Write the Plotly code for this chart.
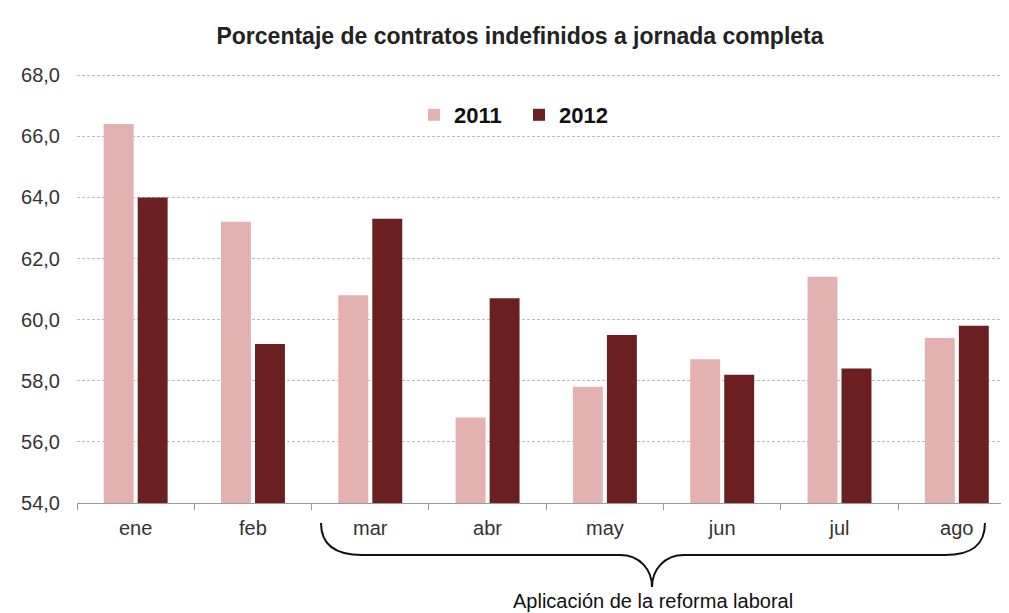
"""Porcentaje de contratos indefinidos a jornada completa — grouped bars 2011 vs 2012."""

import plotly.graph_objects as go

MONTHS = ["ene", "feb", "mar", "abr", "may", "jun", "jul", "ago"]
Y2011 = [66.4, 63.2, 60.8, 56.8, 57.8, 58.7, 61.4, 59.4]
Y2012 = [64.0, 59.2, 63.3, 60.7, 59.5, 58.2, 58.4, 59.8]
Y_TICKS = [54, 56, 58, 60, 62, 64, 66, 68]

PINK = "#e3b1b0"
MAROON = "#6b1f20"
TEXT = "#333333"
GRID = "#bdbdbd"
FONT = "Arial, 'Liberation Sans', sans-serif"

# page body has an 8px margin, so the figure is drawn 8px in from the window corner
OFF = 8
W, H = 1001, 605
L, R, T, B = 69, 0, 65, 110  # margins in figure px


def px(x, y):
    """window pixel -> paper coords"""
    x, y = x - OFF, y - OFF
    return (x - L) / (W - L - R), (H - B - y) / (H - T - B)


def brace_path():
    pts = [
        ("M", [(321, 523)]),
        ("C", [(321, 545), (335, 555), (362, 555)]),
        ("L", [(620, 555)]),
        ("C", [(640, 555), (652, 570), (652, 587)]),
        ("C", [(652, 570), (664, 555), (684, 555)]),
        ("L", [(945, 555)]),
        ("C", [(972, 555), (985, 545), (985, 523)]),
    ]
    out = []
    for cmd, p in pts:
        coords = " ".join(f"{px(a, b)[0]:.4f},{px(a, b)[1]:.4f}" for a, b in p)
        out.append(f"{cmd} {coords}")
    return " ".join(out)


fig = go.Figure()
fig.add_trace(go.Bar(name="2011", x=MONTHS, y=Y2011, marker=dict(color=PINK, line=dict(width=0))))
fig.add_trace(go.Bar(name="2012", x=MONTHS, y=Y2012, marker=dict(color=MAROON, line=dict(width=0))))

lx, ly = px(414, 115)
fig.update_layout(
    width=W,
    height=H,
    margin=dict(l=L, r=R, t=T, b=B),
    paper_bgcolor="white",
    plot_bgcolor="white",
    font=dict(family=FONT, color=TEXT, size=20),
    separators=", ",
    barmode="group",
    bargap=0.42,
    bargroupgap=0.12,
    title=dict(
        text="<b>Porcentaje de contratos indefinidos a jornada completa</b>",
        font=dict(size=23, color="#222222"),
        x=(520 - OFF) / W,
        xanchor="center",
        xref="container",
        y=1 - (36 - OFF) / H,
        yanchor="middle",
        yref="container",
    ),
    legend=dict(
        orientation="h",
        x=lx,
        y=ly,
        xanchor="left",
        yanchor="middle",
        font=dict(size=22, color="#111111", family=FONT, weight="bold"),
        bgcolor="rgba(0,0,0,0)",
        itemwidth=30,
        entrywidth=60,
        tracegroupgap=0,
    ),
    xaxis=dict(
        range=[-0.5, 7.445],
        showline=True,
        linecolor="#9a9a9a",
        linewidth=1,
        ticks="outside",
        tickson="boundaries",
        ticklen=6,
        tickcolor="#9a9a9a",
        tickfont=dict(size=20, color=TEXT),
        ticklabelstandoff=7,
        showgrid=False,
    ),
    yaxis=dict(
        range=[54, 68.07],
        tickvals=Y_TICKS,
        tickformat=".1f",
        tickfont=dict(size=20, color=TEXT),
        showgrid=True,
        gridcolor=GRID,
        griddash="3px,2px",
        gridwidth=1,
        zeroline=False,
        showline=False,
        ticklen=0,
        ticklabelstandoff=16,
    ),
    showlegend=True,
)

fig.add_shape(
    type="path",
    path=brace_path(),
    xref="paper",
    yref="paper",
    line=dict(color="#111111", width=2),
)

tx, ty = px(653, 601)
fig.add_annotation(
    text="Aplicación de la reforma laboral",
    x=tx,
    y=ty,
    xref="paper",
    yref="paper",
    xanchor="center",
    yanchor="middle",
    showarrow=False,
    font=dict(size=20, color="#111111", family=FONT),
)

fig.write_html("out.html")
